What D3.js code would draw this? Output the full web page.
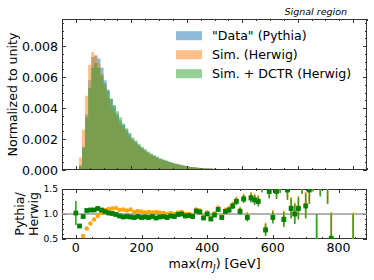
<!DOCTYPE html>
<html><head><meta charset="utf-8">
<script src="https://cdn.jsdelivr.net/npm/d3@7"></script>
<style>
body{margin:0;background:#fff;}
svg{display:block;font-family:"DejaVu Sans",sans-serif;}
</style></head><body>
<svg id="c" width="374" height="280"></svg>
<script>
// ---- data ----
const binWidth = 1000/90;             // GeV, 90 bins from 0 to 1000
const dataPythia = [0,0.00023,0.0014,0.0036,0.0058,0.0073,0.0074,0.0072,0.0066,0.0058,0.0052,0.0046,0.0041,0.0036,0.0032,0.0029,0.0026,0.0023,0.00197,0.0018,0.0016,0.00143,0.00126,0.00113,0.001,0.0009,0.00082,0.00072,0.00065,0.00059,0.00051,0.00046,0.0004,0.00035,0.0003,0.00027,0.00023,0.0002,0.000175,0.000155,0.000135,0.000115,0.000105,0.000095,0.000085,0.00008,0.00007,0.00006,0.00006,0.00005,0.00004,0.00004,0.00003,0.00003,0.00002,0.00002,0.000015,0.00001,0.00001,0.000008,0.000006,0.000005,0.000004,0.000003,0.000003,0.000002,0.000002,0.000001,0,0,0,0,0,0,0,0,0,0,0,0,0,0,0,0,0,0,0,0,0,0];
const simHerwig = [0,0.0008,0.0026,0.0048,0.0068,0.0076,0.0074,0.0069,0.0062,0.0054,0.0047,0.0041,0.0037,0.0033,0.0029,0.0027,0.0024,0.0021,0.0019,0.0017,0.0015,0.00138,0.00121,0.0011,0.00096,0.00087,0.00078,0.0007,0.00062,0.00056,0.00049,0.00044,0.00039,0.00034,0.00029,0.00026,0.00022,0.00019,0.00017,0.00015,0.00013,0.00011,0.0001,0.00009,0.00008,0.00007,0.00006,0.00005,0.00005,0.00004,0.00004,0.00003,0.00003,0.00002,0.00002,0.000015,0.000012,0.00001,0.000008,0.000007,0.000006,0.000005,0.000004,0.000003,0.000002,0.000002,0.000001,0.000001,0,0,0,0,0,0,0,0,0,0,0,0,0,0,0,0,0,0,0,0,0,0];
const simDCTR = [0,0.0003,0.0015,0.0034,0.0053,0.0066,0.0069,0.0066,0.0061,0.0056,0.0051,0.0046,0.0042,0.0038,0.0034,0.0030,0.0027,0.0024,0.0021,0.0019,0.0017,0.0015,0.00135,0.0012,0.00107,0.00095,0.00085,0.00075,0.00067,0.0006,0.00053,0.00047,0.00041,0.00036,0.00031,0.00027,0.00023,0.0002,0.00017,0.00015,0.00013,0.00011,0.0001,0.00009,0.00008,0.00007,0.00006,0.00005,0.000045,0.00004,0.000035,0.00003,0.000025,0.00002,0.000018,0.000015,0.000012,0.00001,0.000008,0.000007,0.000006,0.000005,0.000004,0.000003,0.000003,0.000002,0.000002,0.000001,0,0,0,0,0,0,0,0,0,0,0,0,0,0,0,0,0,0,0,0,0,0];

// ratio panel: one entry per bin (plotted at bin low edge); null = no point
const ratioHerwig = [null,0.3,0.56,0.71,0.81,0.89,0.96,1.02,1.08,1.1,1.11,1.12,1.08,1.09,1.07,1.09,1.04,1.06,1.05,1.03,1.04,1.03,1.04,1.03,1.02,1.0,1.02,1.0,1.03,1.04,1.0,1.0,0.98,1.09,1.07,0.95,1.03,0.93,1.01,1.12,0.96,1.08,1.11,1.19,1.28,1.08,1.33,0.96,1.35,1.31,1.28,1.58,0.71,1.48,0.96,1.48,1.63,0.92,1.51,1.14,1.03,1.14,1.73,1.19,1.51,1.83,0.43,1.73,null,1.63,0.54,null,null,null,null,null,0.33];
const errHerwig = [0.2,0.03,0.02,0.02,0.015,0.015,0.015,0.015,0.015,0.015,0.015,0.015,0.015,0.015,0.015,0.015,0.02,0.02,0.02,0.02,0.02,0.02,0.02,0.02,0.025,0.025,0.025,0.025,0.03,0.03,0.03,0.03,0.035,0.035,0.035,0.04,0.04,0.04,0.045,0.05,0.05,0.05,0.06,0.06,0.07,0.07,0.08,0.08,0.09,0.1,0.1,0.12,0.12,0.14,0.12,0.15,0.18,0.15,0.2,0.2,0.2,0.22,0.3,0.25,0.28,0.35,0.5,0.35,0.3,0.4,0.5,0.4,0.4,0.4,0.4,0.4,0.7];
const ratioDCTR = [1.02,0.76,0.95,1.07,1.08,1.08,1.11,1.08,1.05,1.02,1.01,0.99,0.96,0.94,0.95,0.94,0.93,0.95,0.93,0.94,0.93,0.95,0.92,0.94,0.95,0.93,0.96,0.95,0.99,1.0,0.96,0.97,0.95,1.06,1.04,0.92,1.0,0.9,0.98,1.09,0.93,1.05,1.08,1.16,1.25,1.05,1.3,0.93,1.32,1.28,1.25,1.55,0.68,1.45,0.93,1.45,1.6,0.89,1.48,1.11,1.0,1.11,1.7,1.16,1.48,1.8,0.4,1.7,null,1.6,0.51,null,null,null,null,null,0.3];
const errDCTR = [0.24,0.03,0.02,0.02,0.015,0.015,0.015,0.015,0.015,0.015,0.015,0.015,0.015,0.015,0.015,0.015,0.02,0.02,0.02,0.02,0.02,0.02,0.02,0.02,0.025,0.025,0.025,0.025,0.03,0.03,0.03,0.03,0.035,0.035,0.035,0.04,0.04,0.04,0.045,0.05,0.05,0.05,0.06,0.06,0.07,0.07,0.08,0.08,0.09,0.1,0.1,0.12,0.12,0.14,0.12,0.15,0.18,0.15,0.2,0.2,0.2,0.22,0.3,0.25,0.28,0.35,0.6,0.35,0.3,0.4,0.5,0.4,0.4,0.4,0.4,0.4,0.7];

const legendLabels = ['"Data" (Pythia)','Sim. (Herwig)','Sim. + DCTR (Herwig)'];
const topYTicks = [0,0.002,0.004,0.006,0.008];
const botYTicks = [0.5,1.0,1.5];
const xTicks = [0,200,400,600,800];

// ---- layout ----
const svg = d3.select('#c');
const L = 62, R = 367, T1 = 19, B1 = 170, T2 = 189, B2 = 239;
const colors = ['#1f77b4','#ff7f0e','#2ca02c'];
const edges = d3.range(91).map(i => i*binWidth);

const xTop = d3.scaleLinear().domain([-50,1050]).range([L,R]);
const yTop = d3.scaleLinear().domain([0,0.00975]).range([B1,T1]);
const xBot = d3.scaleLinear().domain([-42.2,886.7]).range([L,R]);
const yBot = d3.scaleLinear().domain([0.5,1.5]).range([B2,T2]);

svg.append('defs').html(
 `<clipPath id="cp1"><rect x="${L}" y="${T1}" width="${R-L}" height="${B1-T1}"/></clipPath>
  <clipPath id="cp2"><rect x="${L}" y="${T2}" width="${R-L}" height="${B2-T2}"/></clipPath>`);

// histograms
const gH = svg.append('g').attr('clip-path','url(#cp1)');
[dataPythia, simHerwig, simDCTR].forEach((vals,k)=>{
  const pts = vals.map((v,i)=>[edges[i],v]);
  pts.push([edges[vals.length], vals[vals.length-1]]);
  const area = d3.area().x(d=>xTop(d[0])).y0(yTop(0)).y1(d=>yTop(d[1])).curve(d3.curveStepAfter);
  gH.append('path').attr('d',area(pts)).attr('fill',colors[k]).attr('fill-opacity',0.5);
});

function frame(x, y, top, bot, xMajor, xMinor, yMajor, yMinor){
  const g = svg.append('g').attr('stroke','#333');
  xMinor.forEach(v=>{const px=Math.round(x(v))+0.5; g.append('line').attr('x1',px).attr('x2',px).attr('y1',bot).attr('y2',bot-2);g.append('line').attr('x1',px).attr('x2',px).attr('y1',top).attr('y2',top+2);});
  xMajor.forEach(v=>{const px=Math.round(x(v))+0.5; g.append('line').attr('x1',px).attr('x2',px).attr('y1',bot).attr('y2',bot-4);g.append('line').attr('x1',px).attr('x2',px).attr('y1',top).attr('y2',top+4);});
  yMinor.forEach(v=>{const py=Math.round(y(v))+0.5; g.append('line').attr('x1',L).attr('x2',L+2).attr('y1',py).attr('y2',py);g.append('line').attr('x1',R).attr('x2',R-2).attr('y1',py).attr('y2',py);});
  yMajor.forEach(v=>{const py=Math.round(y(v))+0.5; g.append('line').attr('x1',L).attr('x2',L+4).attr('y1',py).attr('y2',py);g.append('line').attr('x1',R).attr('x2',R-4).attr('y1',py).attr('y2',py);});
  svg.append('rect').attr('x',L+0.5).attr('y',top+0.5).attr('width',R-L-1).attr('height',bot-top-1)
    .attr('fill','none').attr('stroke','#333').attr('stroke-width',1);
}
const rng = (a,b,s)=>d3.range(a,b+1e-9,s);
frame(xTop, yTop, T1, B1, rng(0,1000,200), rng(-50,1050,50).filter(v=>v%200!==0), topYTicks, rng(0,0.0095,0.0005));
frame(xBot, yBot, T2, B2, xTicks, rng(-50,850,50).filter(v=>v%200!==0 && v>-42), botYTicks, rng(0.5,1.5,0.1));

// tick labels
svg.append('g').selectAll('text').data(topYTicks).join('text')
  .attr('x',L-4).attr('y',d=>yTop(d)).attr('dy','0.36em').attr('text-anchor','end')
  .attr('font-size',12.6).attr('fill','#000').text(d=>d3.format('.3f')(d));
svg.append('g').selectAll('text').data(botYTicks).join('text')
  .attr('x',L-4).attr('y',d=>yBot(d)).attr('dy','0.36em').attr('text-anchor','end')
  .attr('font-size',9.2).attr('fill','#000').text(d=>d3.format('.1f')(d));
svg.append('g').selectAll('text').data(xTicks).join('text')
  .attr('x',d=>xBot(d)).attr('y',252).attr('text-anchor','middle')
  .attr('font-size',12.6).attr('fill','#000').text(d=>d);

// ratio panel
const gR = svg.append('g').attr('clip-path','url(#cp2)');
gR.append('line').attr('x1',L).attr('x2',R).attr('y1',yBot(1)).attr('y2',yBot(1)).attr('stroke','#999').attr('stroke-width',1.6);
function series(vals, errs, col, ecol, shape){
  const g = gR.append('g');
  vals.forEach((v,i)=>{
    if(v===null) return;
    const x = xBot(edges[i]);
    g.append('line').attr('x1',x).attr('x2',x).attr('y1',yBot(v-errs[i])).attr('y2',yBot(v+errs[i]))
      .attr('stroke',ecol).attr('stroke-width',1.6);
  });
  vals.forEach((v,i)=>{
    if(v===null) return;
    const x = xBot(edges[i]), y = yBot(v);
    if(shape==='o') g.append('circle').attr('cx',x).attr('cy',y).attr('r',2.2).attr('fill',col);
    else g.append('rect').attr('x',x-2.4).attr('y',y-2.4).attr('width',4.8).attr('height',4.8).attr('fill',col);
  });
}
series(ratioHerwig, errHerwig, '#ffa500', '#ffa500', 'o');
series(ratioDCTR, errDCTR, '#008000', '#3c9a28', 's');

// legend
const lg = svg.append('g');
legendLabels.forEach((t,k)=>{
  const cy = 35.7 + k*19;
  lg.append('rect').attr('x',176).attr('y',cy-4.5).attr('width',26).attr('height',9).attr('fill',colors[k]).attr('fill-opacity',0.5);
  lg.append('text').attr('x',212).attr('y',cy).attr('dy','0.36em').attr('font-size',12.6).attr('fill','#000').text(t);
});

// labels
svg.append('text').attr('x',347).attr('y',15).attr('text-anchor','end').attr('font-size',9.5)
  .attr('font-style','italic').attr('fill','#000').text('Signal region');
svg.append('text').attr('transform',`translate(17,${(T1+B1)/2}) rotate(-90)`).attr('text-anchor','middle')
  .attr('font-size',12.6).attr('fill','#000').text('Normalized to unity');
const yl = svg.append('text').attr('transform',`translate(0,${(T2+B2)/2}) rotate(-90)`).attr('text-anchor','middle')
  .attr('font-size',12.6).attr('fill','#000');
yl.append('tspan').attr('x',0).attr('y',24).text('Pythia/');
yl.append('tspan').attr('x',0).attr('y',38).text('Herwig');
const xl = svg.append('text').attr('x',(L+R)/2).attr('y',267.5).attr('text-anchor','middle').attr('font-size',12.6).attr('fill','#000');
xl.append('tspan').text('max(');
xl.append('tspan').attr('font-style','italic').text('m');
xl.append('tspan').attr('font-style','italic').attr('font-size',9).attr('dy',3).text('J');
xl.append('tspan').attr('dy',-3).text(') [GeV]');
</script></body></html>
